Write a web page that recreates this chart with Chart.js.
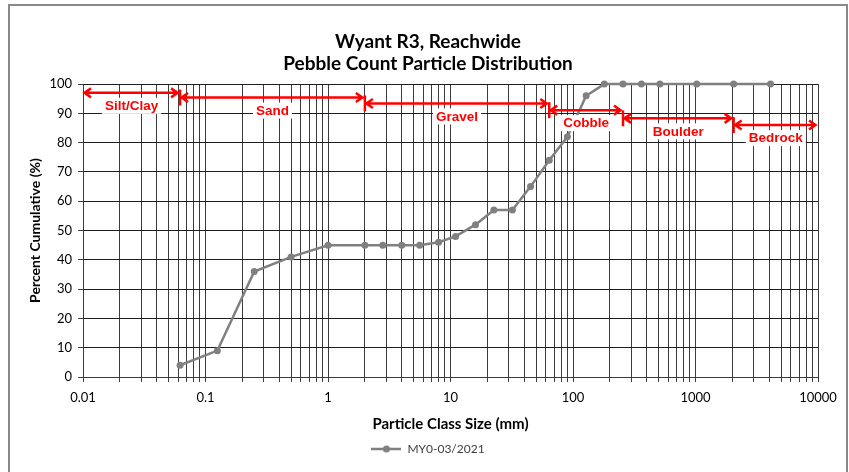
<!DOCTYPE html>
<html>
<head>
<meta charset="utf-8">
<script src="https://cdn.jsdelivr.net/npm/chart.js@4.4.0/dist/chart.umd.min.js"></script>
<style>
  html, body { margin: 0; padding: 0; background: #fff; }
  #wrap { position: relative; width: 849px; height: 472px; overflow: hidden; }
  #frame { position: absolute; left: 8px; top: 4px; width: 836px; height: 500px; border: 2px solid #8a8a8a; border-bottom: none; }
  #chart { position: absolute; left: 0; top: 0; }
</style>
</head>
<body>
<div id="wrap">
  <div id="frame"></div>
  <canvas id="chart" width="849" height="472"></canvas>
</div>
<script>
// particle sizes (mm) and cumulative percent finer
const sizes = [0.062, 0.125, 0.25, 0.5, 1, 2, 2.8, 4, 5.6, 8, 11, 16, 22.6, 32, 45, 64, 90, 128, 180, 256, 362, 512, 1024, 2048, 4096];
const cumulative = [4, 9, 36, 41, 45, 45, 45, 45, 45, 46, 48, 52, 57, 57, 65, 74, 82, 96, 100, 100, 100, 100, 100, 100, 100];

// size class bands drawn as red arrows
const zoneNames = ['Silt/Clay', 'Sand', 'Gravel', 'Cobble', 'Boulder', 'Bedrock'];
const zoneBounds = [0.01, 0.062, 2, 64, 256, 2048, 10000];
const zoneLevels = [97, 95.4, 93.4, 91.1, 88.3, 86];

// axis ticks
const decadeTicks = [0.01, 0.1, 1, 10, 100, 1000, 10000];
const decadeLabels = ['0.01', '0.1', '1', '10', '100', '1000', '10000'];

const FONT = "Lato, 'Open Sans', sans-serif";
const ARIAL = "'Liberation Sans', Arial, sans-serif";

// all grid values: 1..9 x each decade
const gridValues = [];
decadeTicks.forEach((d, i) => {
  if (i === decadeTicks.length - 1) { gridValues.push(d); return; }
  for (let m = 1; m <= 9; m++) gridValues.push(+(d * m).toPrecision(6));
});

// legend marker: line with dot
const marker = document.createElement('canvas');
marker.width = 30; marker.height = 10;
(function () {
  const c = marker.getContext('2d');
  c.strokeStyle = '#808080'; c.lineWidth = 2.5;
  c.beginPath(); c.moveTo(0, 5); c.lineTo(30, 5); c.stroke();
  c.fillStyle = '#808080';
  c.beginPath(); c.arc(15, 5, 3.5, 0, Math.PI * 2); c.fill();
})();

const zonePlugin = {
  id: 'zones',
  afterDatasetsDraw(chart) {
    const { ctx, scales: { x, y } } = chart;
    ctx.save();
    ctx.strokeStyle = '#ff0000';
    ctx.lineWidth = 2.5;
    zoneNames.forEach((name, i) => {
      const x0 = x.getPixelForValue(zoneBounds[i]);
      const x1 = x.getPixelForValue(zoneBounds[i + 1]) - 2;
      const yy = y.getPixelForValue(zoneLevels[i]);
      ctx.beginPath();
      ctx.moveTo(x0 + 1, yy); ctx.lineTo(x1, yy);
      // heads
      ctx.moveTo(x0 + 8, yy - 4.5); ctx.lineTo(x0 + 1.5, yy); ctx.lineTo(x0 + 8, yy + 4.5);
      ctx.moveTo(x1 - 7, yy - 4.5); ctx.lineTo(x1 - 0.5, yy); ctx.lineTo(x1 - 7, yy + 4.5);
      ctx.stroke();
      if (i > 0) {
        ctx.beginPath();
        ctx.moveTo(x0, yy - 8); ctx.lineTo(x0, yy + 8);
        ctx.stroke();
      }
      // label
      const mid = (x.getPixelForValue(zoneBounds[i]) + x.getPixelForValue(zoneBounds[i + 1])) / 2;
      ctx.font = "bold 13.5px " + ARIAL;
      const w = ctx.measureText(name).width;
      ctx.fillStyle = '#fff';
      ctx.fillRect(mid - w / 2 - 3, yy + 5, w + 6, 16);
      ctx.fillStyle = '#ff0000';
      ctx.textAlign = 'center';
      ctx.textBaseline = 'middle';
      ctx.fillText(name, mid, yy + 13.5);
    });
    ctx.restore();
  }
};

new Chart(document.getElementById('chart'), {
  type: 'line',
  data: {
    datasets: [{
      label: 'MY0-03/2021',
      data: sizes.map((s, i) => ({ x: s, y: cumulative[i] })),
      borderColor: '#808080',
      backgroundColor: '#808080',
      borderWidth: 2.5,
      pointRadius: 3.5,
      pointHoverRadius: 3.5,
      pointBorderWidth: 0,
      pointBackgroundColor: '#808080',
      tension: 0,
      clip: false
    }]
  },
  options: {
    responsive: false,
    animation: false,
    events: [],
    layout: { padding: { left: 38, right: 31, top: 0, bottom: 7 } },
    scales: {
      x: {
        type: 'logarithmic',
        min: 0.01,
        max: 10000,
        afterBuildTicks: (scale) => {
          scale.ticks = gridValues.map(v => ({ value: v }));
        },
        afterFit: (scale) => { scale.height = 60; },
        ticks: {
          autoSkip: false,
          maxRotation: 0,
          padding: 8,
          color: '#000',
          font: { family: FONT, size: 13 },
          callback: (value) => {
            const k = decadeTicks.findIndex(d => Math.abs(d - value) / d < 1e-6);
            return k >= 0 ? decadeLabels[k] : '';
          }
        },
        grid: { color: '#3c3c3c', lineWidth: 1, drawTicks: true, tickLength: 5, tickColor: '#3c3c3c' },
        border: { color: '#3c3c3c' },
        title: {
          display: true,
          text: 'Particle Class Size (mm)',
          color: '#000',
          font: { family: FONT, size: 15, weight: 'bold', lineHeight: 1.2 },
          padding: { top: 0, bottom: 4 }
        }
      },
      y: {
        min: 0,
        max: 100,
        afterFit: (scale) => { scale.width = 45; },
        ticks: {
          stepSize: 10,
          padding: 6,
          color: '#000',
          font: { family: FONT, size: 13 }
        },
        grid: { color: '#1e1e1e', lineWidth: 1, drawTicks: true, tickLength: 5, tickColor: '#3c3c3c' },
        border: { color: '#3c3c3c' },
        title: {
          display: true,
          text: 'Percent Cumulative (%)',
          color: '#000',
          font: { family: FONT, size: 14, weight: 'bold', lineHeight: 1.2 },
          padding: { top: -11, bottom: 0 }
        }
      }
    },
    plugins: {
      title: {
        display: true,
        text: ['Wyant R3, Reachwide', 'Pebble Count Particle Distribution'],
        color: '#000',
        font: { family: FONT, size: 19, weight: 'bold', lineHeight: 1.16 },
        padding: { top: 31, bottom: 9 }
      },
      legend: {
        position: 'bottom',
        labels: {
          usePointStyle: true,
          pointStyle: marker,
          pointStyleWidth: 30,
          padding: 6,
          color: '#404040',
          font: { family: FONT, size: 12 }
        }
      },
      tooltip: { enabled: false }
    }
  },
  plugins: [zonePlugin]
});
</script>
</body>
</html>
